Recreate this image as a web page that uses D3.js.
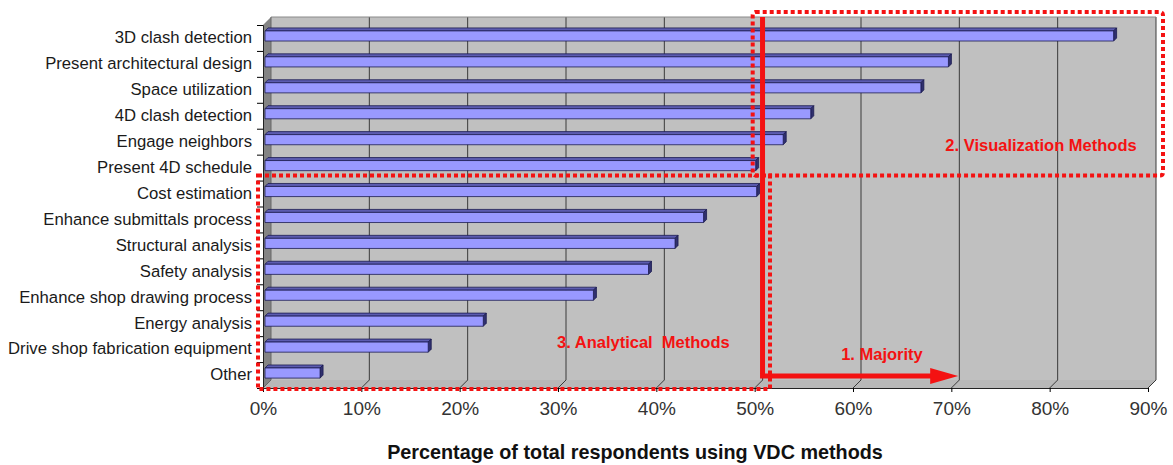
<!DOCTYPE html>
<html>
<head>
<meta charset="utf-8">
<script src="https://cdn.jsdelivr.net/npm/d3@7"></script>
<style>
  body { margin: 0; background: #fff; }
  svg { display: block; font-family: "Liberation Sans", Arial, sans-serif; }
</style>
</head>
<body>
<script>
// categories, top to bottom
const categories = [
  "3D clash detection",
  "Present architectural design",
  "Space utilization",
  "4D clash detection",
  "Engage neighbors",
  "Present 4D schedule",
  "Cost estimation",
  "Enhance submittals process",
  "Structural analysis",
  "Safety analysis",
  "Enhance shop drawing process",
  "Energy analysis",
  "Drive shop fabrication equipment",
  "Other"
];
// percentage of respondents
const values = [86.3, 69.5, 66.7, 55.5, 52.7, 49.9, 50.0, 44.6, 41.7, 39.0, 33.4, 22.2, 16.6, 5.6];
const xTicks = [0, 10, 20, 30, 40, 50, 60, 70, 80, 90];

const width = 1173, height = 465;
const depth = 8; // 3d wall depth

const svg = d3.select("body").append("svg")
    .attr("width", width)
    .attr("height", height);

// scales
const x = d3.scaleLinear().domain([0, 90]).range([263, 1148]);
const y = d3.scaleBand().domain(categories).range([25, 388])
    .paddingInner(0.61).paddingOuter(0.305);
const yEdge = d3.scaleLinear().domain([0, categories.length]).range([25, 388]);

const x0 = x(0), x1 = x(90), yTop = 25, yBot = 388;

// back wall
svg.append("rect")
    .attr("x", x0 + depth).attr("y", yTop - depth)
    .attr("width", x1 - x0).attr("height", yBot - yTop)
    .attr("fill", "#c0c0c0");
// left wall
svg.append("path")
    .attr("d", `M${x0},${yTop}L${x0 + depth},${yTop - depth}L${x0 + depth},${yBot - depth}L${x0},${yBot}Z`)
    .attr("fill", "#848484");
// floor
svg.append("path")
    .attr("d", `M${x0},${yBot}L${x0 + depth},${yBot - depth}L${x1 + depth},${yBot - depth}L${x1},${yBot}Z`)
    .attr("fill", "#b8b8b8");

// gridlines on the wall and floor
const grid = svg.append("g").attr("fill", "none").attr("stroke", "#3a3a3a").attr("stroke-width", 1);
grid.selectAll(".gv").data(xTicks.slice(1)).join("path")
    .attr("d", d => `M${x(d) + depth},${yTop - depth}V${yBot - depth}L${x(d)},${yBot}`);
grid.append("path")
    .attr("d", `M${x0 + depth},${yTop - depth}H${x1 + depth}`)
    .attr("stroke", "#8a8a8a");
grid.append("path")
    .attr("d", `M${x0 + depth},${yTop - depth}V${yBot - depth}L${x0},${yBot}`)
    .attr("stroke", "#666");

// bars (3d)
const bOff = 2, bDep = 3; // bar front offset and bar depth
const bars = svg.append("g").attr("stroke", "#1c1c50").attr("stroke-width", 0.8).attr("stroke-linejoin", "round");
const bh = y.bandwidth();
categories.forEach((c, i) => {
  const xs = x0 + bOff, xe = x(values[i]) + bOff;
  const yt = y(c) - bOff, yb = yt + bh;
  // top face
  bars.append("path")
    .attr("d", `M${xs},${yt}L${xs + bDep},${yt - bDep}L${xe + bDep},${yt - bDep}L${xe},${yt}Z`)
    .attr("fill", "#5c5cb0");
  // end cap
  bars.append("path")
    .attr("d", `M${xe},${yt}L${xe + bDep},${yt - bDep}L${xe + bDep},${yb - bDep}L${xe},${yb}Z`)
    .attr("fill", "#30306e");
  // front face
  bars.append("rect")
    .attr("x", xs).attr("y", yt)
    .attr("width", xe - xs).attr("height", bh)
    .attr("fill", "#9999ff");
});

// x axis
svg.append("g")
    .attr("transform", `translate(0,${yBot})`)
    .call(d3.axisBottom(x).tickValues(xTicks).tickSize(4).tickSizeOuter(0).tickPadding(10)
        .tickFormat(d => d + "%"))
    .call(g => g.select(".domain").attr("stroke", "#222"))
    .call(g => g.selectAll("text").attr("font-size", 19).attr("fill", "#333")
        .attr("font-family", "Liberation Sans, Arial, sans-serif"));

// y axis: line + ticks at band edges
svg.append("g")
    .attr("transform", `translate(${x0},0)`)
    .call(d3.axisLeft(yEdge).ticks(categories.length).tickSize(6).tickFormat(""))
    .call(g => g.select(".domain").attr("stroke", "#222"));
// y labels
svg.append("g")
    .attr("transform", `translate(${x0},0)`)
    .call(d3.axisLeft(y).tickSize(0).tickPadding(11))
    .call(g => g.select(".domain").remove())
    .call(g => g.selectAll("text").attr("font-size", 16.7).attr("fill", "#1a1a1a")
        .attr("font-family", "Liberation Sans, Arial, sans-serif"));

// axis title
svg.append("text")
    .attr("x", 635).attr("y", 459)
    .attr("text-anchor", "middle")
    .attr("font-size", 19.8).attr("font-weight", "bold").attr("fill", "#111")
    .text("Percentage of total respondents using VDC methods");

// red annotations
const red = "#f41212";
const ann = svg.append("g");

// 2. visualization methods box
ann.append("rect")
    .attr("x", x(49.8)).attr("y", 12)
    .attr("width", 1163 - x(49.8)).attr("height", yEdge(6) - 5 - 12)
    .attr("rx", 3)
    .attr("fill", "none").attr("stroke", red).attr("stroke-width", 4).attr("stroke-dasharray", "4 3");
ann.append("text")
    .attr("x", 1041).attr("y", 151)
    .attr("text-anchor", "middle")
    .attr("font-size", 16.5).attr("font-weight", "bold").attr("fill", red)
    .text("2. Visualization Methods");

// 3. analytical methods box
ann.append("rect")
    .attr("x", 258).attr("y", yEdge(6) - 5)
    .attr("width", 770 - 258).attr("height", 389 - (yEdge(6) - 5))
    .attr("fill", "none").attr("stroke", red).attr("stroke-width", 4).attr("stroke-dasharray", "4 3");
ann.append("text")
    .attr("x", 557).attr("y", 348)
    .attr("font-size", 16.5).attr("font-weight", "bold").attr("fill", red)
    .attr("xml:space", "preserve")
    .text("3. Analytical  Methods");

// 1. majority arrow
const ax = x(50.8), ay = 376, tip = x(70.7);
ann.append("path")
    .attr("d", `M${ax},17V${ay}H${tip - 26}`)
    .attr("fill", "none").attr("stroke", red).attr("stroke-width", 5);
ann.append("path")
    .attr("d", `M${tip - 28},${ay - 8}L${tip},${ay}L${tip - 28},${ay + 8}Z`)
    .attr("fill", red);
ann.append("text")
    .attr("x", 882).attr("y", 360)
    .attr("text-anchor", "middle")
    .attr("font-size", 16.5).attr("font-weight", "bold").attr("fill", red)
    .text("1. Majority");
</script>
</body>
</html>
